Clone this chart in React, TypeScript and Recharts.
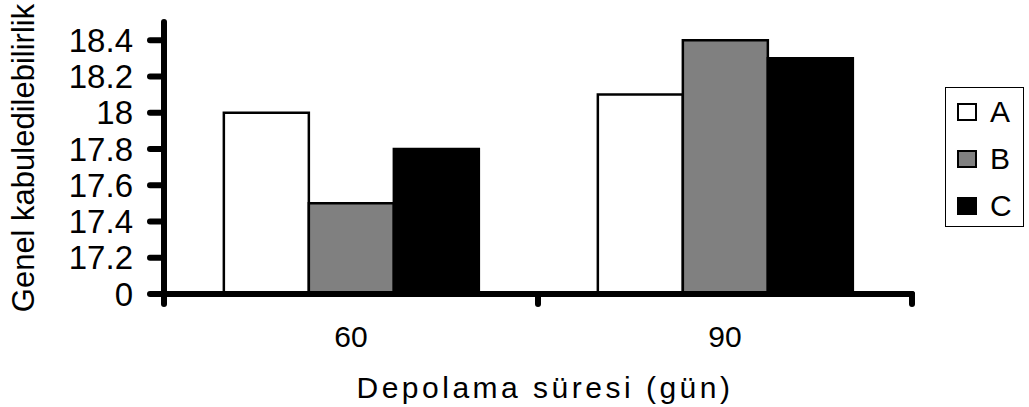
import React from 'react';
import { BarChart, Bar, XAxis, YAxis, Legend } from 'recharts';

const days = ['60', '90'];
const seriesA = [18.0, 18.1];
const seriesB = [17.5, 18.4];
const seriesC = [17.8, 18.3];
const yTicks = [17, 17.2, 17.4, 17.6, 17.8, 18, 18.2, 18.4];

const data = days.map((d, i) => ({ day: d, A: seriesA[i], B: seriesB[i], C: seriesC[i] }));

const FONT = '"Liberation Sans", Arial, sans-serif';
const thick = { stroke: '#000', strokeWidth: 6, strokeLinecap: 'round' as const };

// category label at the band centre, tick marks at the band edges (like Excel)
const DayTick = (props: any) => {
  const { x, y, payload, index, width, visibleTicksCount } = props;
  const half = payload?.offset || width / (visibleTicksCount || 1) / 2;
  return (
    <g>
      {index === 0 && <line x1={x - half} y1={y} x2={x - half} y2={y + 10} {...thick} />}
      <line x1={x + half} y1={y} x2={x + half} y2={y + 10} {...thick} />
      <text x={x} y={y + 32} dy="0.71em" textAnchor="middle" fontFamily={FONT} fontSize={30} fill="#000">
        {payload.value}
      </text>
    </g>
  );
};

// legend drawn as a boxed list like the original
const LegendBox = ({ payload }: any) => (
  <div
    style={{
      border: '1px solid #000',
      width: 79,
      height: 140,
      boxSizing: 'border-box',
      paddingTop: 0,
      paddingLeft: 11,
      fontFamily: FONT,
      fontSize: 30,
      background: '#fff',
    }}
  >
    {(payload || []).map((p: any) => (
      <div key={p.value} style={{ display: 'flex', alignItems: 'center', height: 47 }}>
        <span
          style={{
            display: 'inline-block',
            width: 20,
            height: 18,
            background: p.payload?.fill ?? p.color,
            border: '2.5px solid #000',
            boxSizing: 'border-box',
            marginRight: 13,
          }}
        />
        <span>{p.value}</span>
      </div>
    ))}
  </div>
);

export default function App() {
  return (
    <div style={{ position: 'absolute', left: 0, top: 0, background: '#fff' }}>
      <BarChart
        width={1029}
        height={407}
        data={data}
        margin={{ top: 22, right: 38, left: 104, bottom: 73 }}
        barCategoryGap="16%"
        barGap={0}
      >
        <XAxis
          dataKey="day"
          height={40}
          axisLine={thick}
          tickLine={false}
          tickSize={0}
          tickMargin={0}
          tick={<DayTick />}
          label={() => (
            <text
              x={545}
              y={398}
              textAnchor="middle"
              fontFamily={FONT}
              fontSize={30}
              letterSpacing={3.5}
              fill="#000"
            >
              Depolama süresi (gün)
            </text>
          )}
        />
        <YAxis
          width={60}
          type="number"
          domain={[17, 18.5]}
          ticks={yTicks}
          interval={0}
          allowDataOverflow
          tickSize={14}
          tickMargin={17}
          axisLine={thick}
          tickLine={thick}
          tickFormatter={(v: number) => (v === 17 ? '0' : String(v))}
          tick={{ fill: '#000', fontSize: 33, fontFamily: FONT }}
          label={() => (
            <text
              x={34}
              y={158}
              transform="rotate(-90 34 158)"
              textAnchor="middle"
              fontFamily={FONT}
              fontSize={31}
              fill="#000"
            >
              Genel kabuledilebilirlik
            </text>
          )}
        />
        <Legend
          layout="vertical"
          align="right"
          verticalAlign="middle"
          content={<LegendBox />}
          wrapperStyle={{ left: 945, top: 87, right: 'auto', width: 79 }}
        />
        <Bar dataKey="A" fill="#ffffff" stroke="#000" strokeWidth={2.5} isAnimationActive={false} />
        <Bar dataKey="B" fill="#808080" stroke="#000" strokeWidth={2.5} isAnimationActive={false} />
        <Bar dataKey="C" fill="#000000" stroke="#000" strokeWidth={2.5} isAnimationActive={false} />
      </BarChart>
    </div>
  );
}
